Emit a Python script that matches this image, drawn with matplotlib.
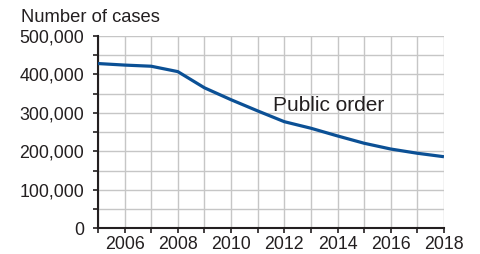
import matplotlib.pyplot as plt
from matplotlib.ticker import MultipleLocator, FuncFormatter

years = [2005, 2006, 2007, 2008, 2009, 2010, 2011, 2012, 2013, 2014, 2015, 2016, 2017, 2018]
cases = [428000, 424000, 421000, 407000, 365000, 334000, 305000, 277000, 260000, 240000, 221000, 206000, 195000, 186000]

plt.rcParams['font.family'] = ['Liberation Sans', 'DejaVu Sans']
txt = '#231f20'

fig = plt.figure(figsize=(4.81, 2.54), dpi=100)
ax = fig.add_axes([0.2037, 0.101, 0.7193, 0.758])

ax.plot(years, cases, color='#0b5095', lw=2.3, solid_capstyle='butt', zorder=3)

ax.set_xlim(2005, 2018)
ax.set_ylim(0, 500000)
ax.xaxis.set_major_locator(MultipleLocator(1))
ax.yaxis.set_major_locator(MultipleLocator(50000))
ax.xaxis.set_major_formatter(FuncFormatter(lambda v, p: f'{int(v)}' if int(v) % 2 == 0 else ''))
ax.yaxis.set_major_formatter(FuncFormatter(lambda v, p: f'{int(v):,}' if int(v) % 100000 == 0 else ''))
ax.grid(True, color='#c6c6c6', lw=1.0, zorder=0)
ax.set_axisbelow(True)

for s in ['top', 'right']:
    ax.spines[s].set_visible(False)
for s in ['left', 'bottom']:
    ax.spines[s].set_color(txt)
    ax.spines[s].set_linewidth(1.5)
ax.tick_params(direction='out', length=3.5, width=1.2, color=txt, labelcolor=txt, labelsize=12.8)
ax.tick_params(axis='y', pad=6.5)
ax.tick_params(axis='x', pad=2)

ax.text(2013.68, 305000, 'Public order', fontsize=15, color=txt, ha='center', va='baseline')
fig.text(21 / 481, 1 - 18 / 254, 'Number of cases', fontsize=13.2, color=txt, ha='left', va='center')

fig.savefig('out.png', dpi=100)
